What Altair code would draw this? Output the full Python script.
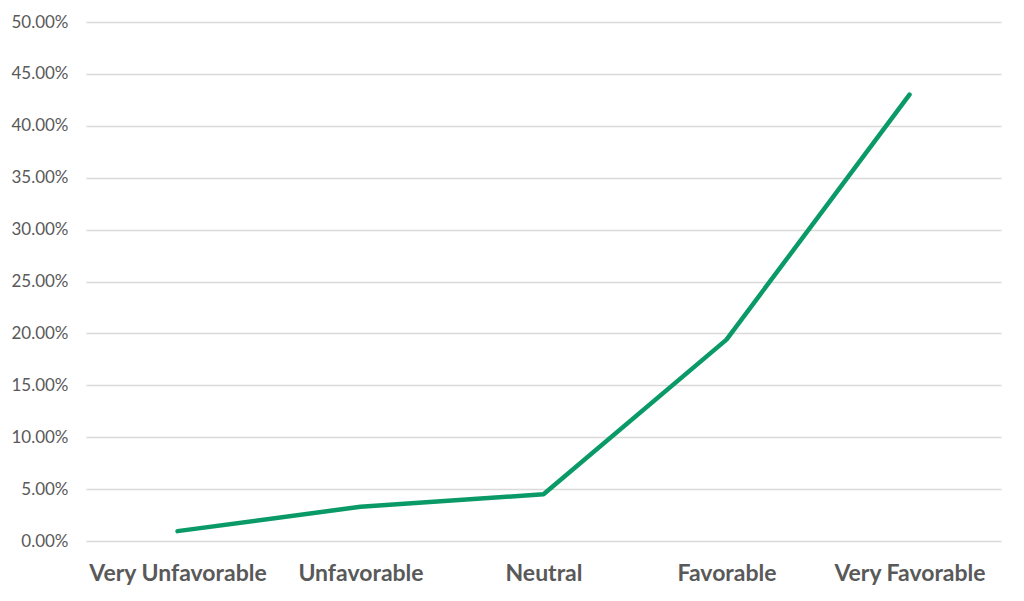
import altair as alt
import pandas as pd

categories = ["Very Unfavorable", "Unfavorable", "Neutral", "Favorable", "Very Favorable"]
values = [0.0095, 0.033, 0.045, 0.194, 0.43]

df = pd.DataFrame({"cat": categories, "val": values})

chart = alt.Chart(df).mark_line(color="#0A9A68", strokeWidth=4.5, strokeCap="round", strokeJoin="round").encode(
    x=alt.X("cat:N", sort=categories, title=None,
            scale=alt.Scale(type="point", padding=0.5),
            axis=alt.Axis(labelAngle=0, labelFont="Lato", labelFontSize=23, labelFontWeight="bold",
                          labelColor="#595959", ticks=False, domain=False, labelPadding=21, grid=False)),
    y=alt.Y("val:Q", title=None,
            scale=alt.Scale(domain=[0, 0.5], nice=False),
            axis=alt.Axis(format=".2%", values=[i * 0.05 for i in range(11)], labelFont="Lato",
                          labelFontSize=17, labelColor="#595959", ticks=False, domain=False,
                          labelPadding=18, gridColor="#D9D9D9", gridWidth=1.5)),
).properties(
    width=915, height=519,
    autosize=alt.AutoSizeParams(type="none"),
    padding={"left": 78, "top": 14, "right": 15, "bottom": 50},
).configure_view(stroke=None)

chart.save("out.html", embed_options={"renderer": "svg", "actions": False})
